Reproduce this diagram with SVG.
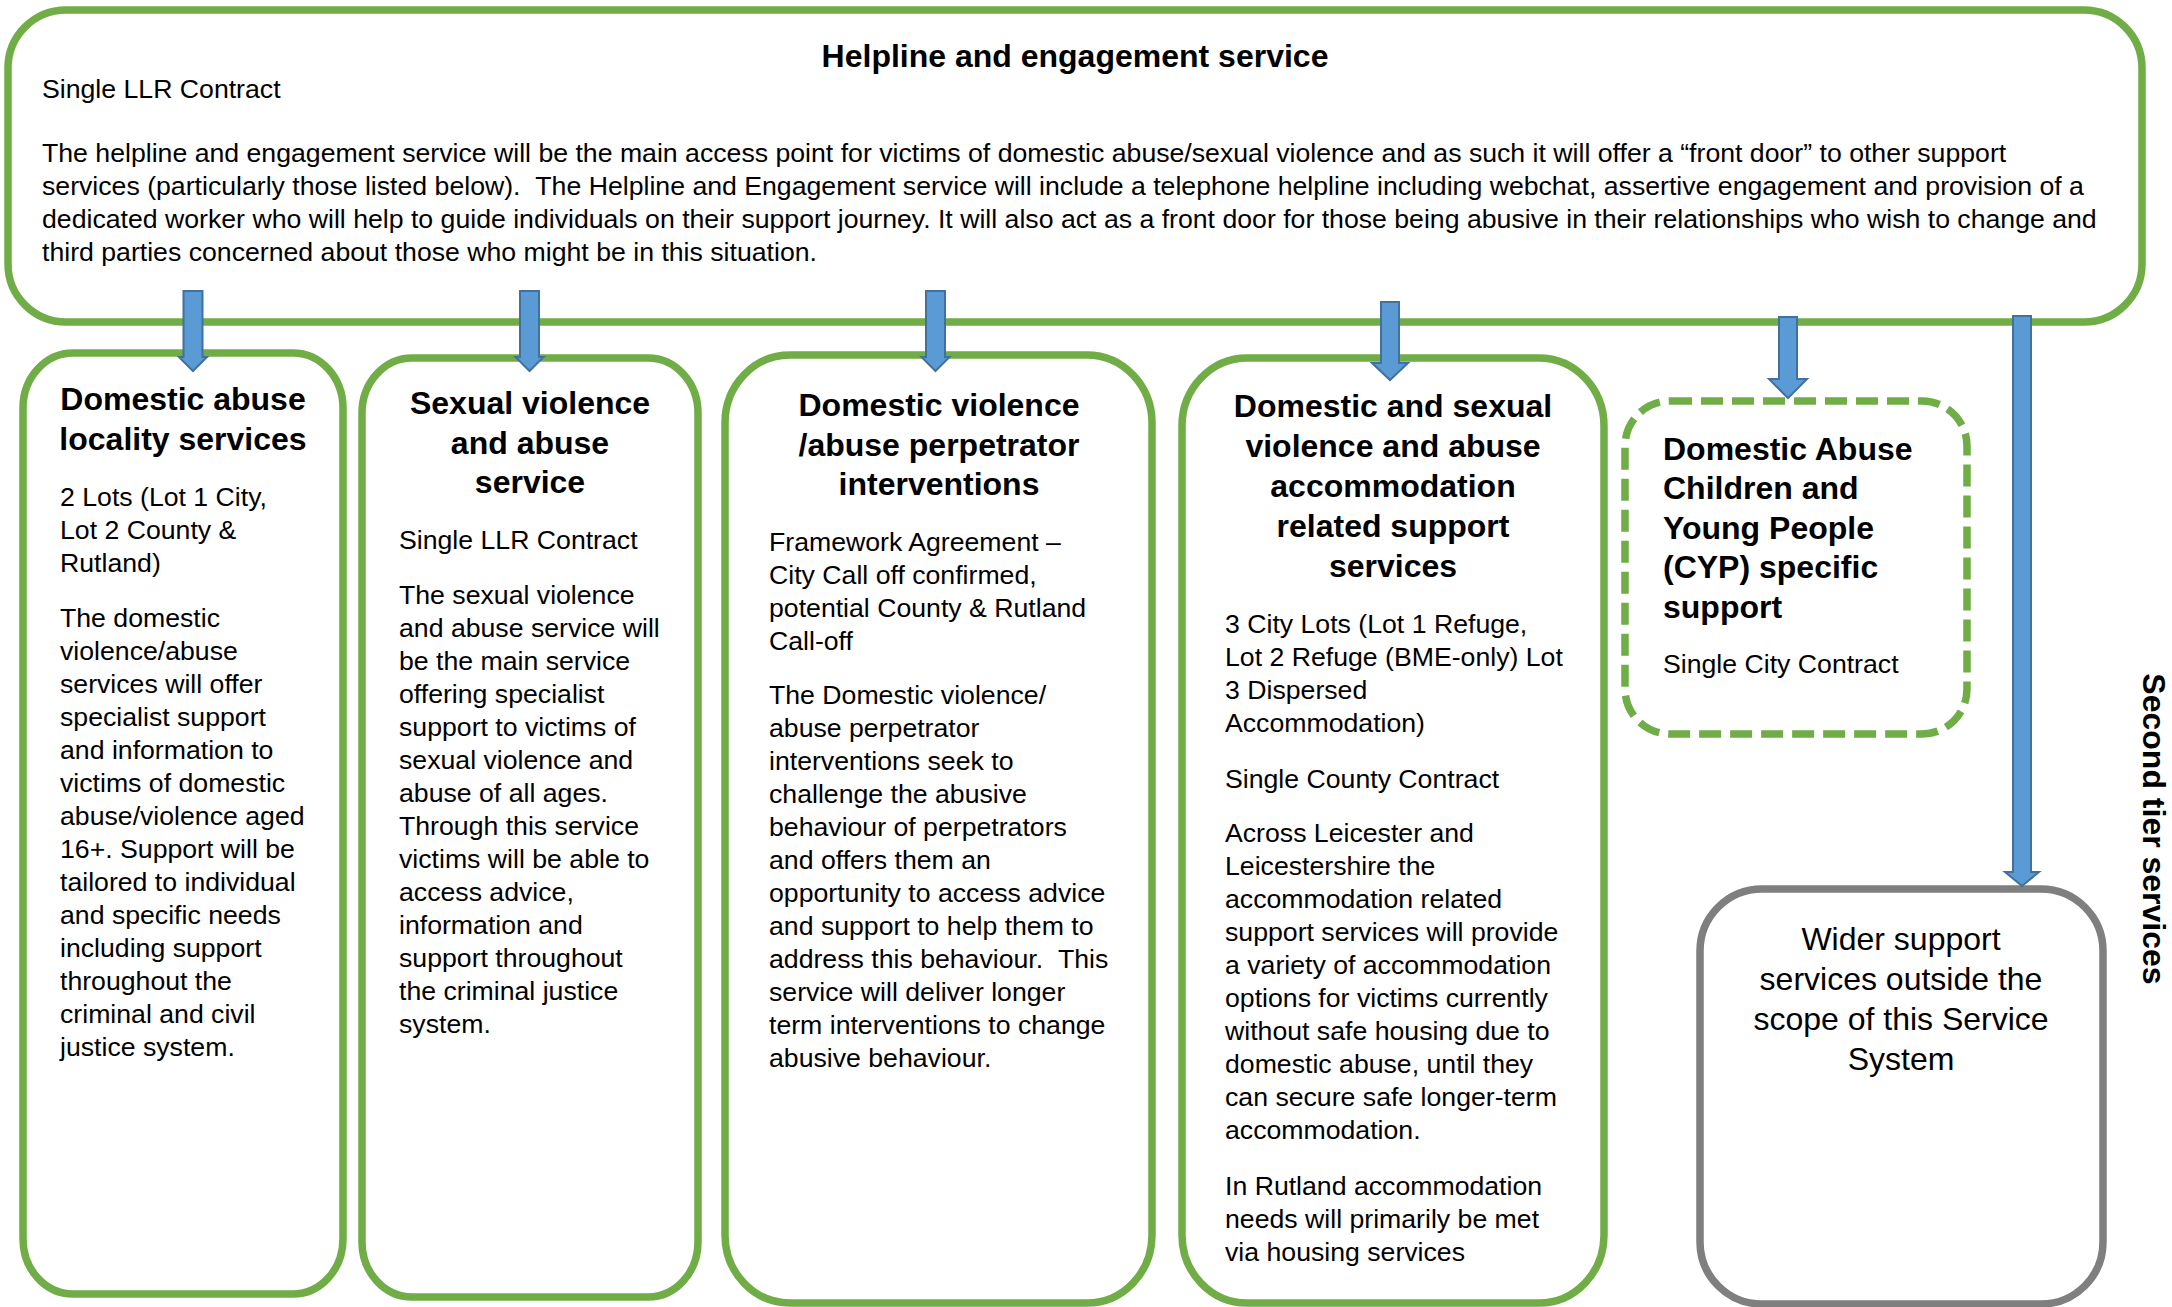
<svg xmlns="http://www.w3.org/2000/svg" width="2172" height="1307" viewBox="0 0 2172 1307">
<style>
  text { font-family: "Liberation Sans", Arial, sans-serif; fill: #000; }
  .body { font-size: 26.67px; }
  .head { font-size: 32px; font-weight: bold; }
  .big { font-size: 32px; }
  .mid { text-anchor: middle; }
  .box { fill: #fff; stroke: #70AD47; stroke-width: 7.5; }
  .dash { fill: #fff; stroke: #70AD47; stroke-width: 7.5; stroke-dasharray: 22 9; }
  .grey { fill: #fff; stroke: #7F7F7F; stroke-width: 7.5; }
  .arrow { fill: #5B9BD5; stroke: #41719C; stroke-width: 2; stroke-linejoin: miter; }
</style>

<g id="helpline">
  <rect class="box" x="8" y="10" width="2134" height="312" rx="58" ry="58"/>
  <text class="head mid" x="1075" y="67">Helpline and engagement service</text>
  <text class="body" x="42" y="98">Single LLR Contract</text>
  <text class="body" x="42" y="162">The helpline and engagement service will be the main access point for victims of domestic abuse/sexual violence and as such it will offer a “front door” to other support</text>
  <text class="body" x="42" y="195">services (particularly those listed below). &#160;The Helpline and Engagement service will include a telephone helpline including webchat, assertive engagement and provision of a</text>
  <text class="body" x="42" y="228">dedicated worker who will help to guide individuals on their support journey. It will also act as a front door for those being abusive in their relationships who wish to change and</text>
  <text class="body" x="42" y="261">third parties concerned about those who might be in this situation.</text>
</g>

<g id="locality">
  <rect class="box" x="23" y="353" width="320" height="941" rx="50" ry="55"/>
  <text class="head mid" x="183"><tspan x="183" y="410">Domestic abuse</tspan><tspan x="183" y="450">locality services</tspan></text>
  <text class="body" x="60">
    <tspan x="60" y="506">2 Lots (Lot 1 City,</tspan>
    <tspan x="60" y="539">Lot 2 County &amp;</tspan>
    <tspan x="60" y="572">Rutland)</tspan>
    <tspan x="60" y="627">The domestic</tspan>
    <tspan x="60" y="660">violence/abuse</tspan>
    <tspan x="60" y="693">services will offer</tspan>
    <tspan x="60" y="726">specialist support</tspan>
    <tspan x="60" y="759">and information to</tspan>
    <tspan x="60" y="792">victims of domestic</tspan>
    <tspan x="60" y="825">abuse/violence aged</tspan>
    <tspan x="60" y="858">16+. Support will be</tspan>
    <tspan x="60" y="891">tailored to individual</tspan>
    <tspan x="60" y="924">and specific needs</tspan>
    <tspan x="60" y="957">including support</tspan>
    <tspan x="60" y="990">throughout the</tspan>
    <tspan x="60" y="1023">criminal and civil</tspan>
    <tspan x="60" y="1056">justice system.</tspan>
  </text>
</g>

<g id="sexual-violence">
  <rect class="box" x="362" y="358" width="336" height="939" rx="50" ry="55"/>
  <text class="head mid"><tspan x="530" y="414">Sexual violence</tspan><tspan x="530" y="454">and abuse</tspan><tspan x="530" y="493">service</tspan></text>
  <text class="body">
    <tspan x="399" y="549">Single LLR Contract</tspan>
    <tspan x="399" y="604">The sexual violence</tspan>
    <tspan x="399" y="637">and abuse service will</tspan>
    <tspan x="399" y="670">be the main service</tspan>
    <tspan x="399" y="703">offering specialist</tspan>
    <tspan x="399" y="736">support to victims of</tspan>
    <tspan x="399" y="769">sexual violence and</tspan>
    <tspan x="399" y="802">abuse of all ages.</tspan>
    <tspan x="399" y="835">Through this service</tspan>
    <tspan x="399" y="868">victims will be able to</tspan>
    <tspan x="399" y="901">access advice,</tspan>
    <tspan x="399" y="934">information and</tspan>
    <tspan x="399" y="967">support throughout</tspan>
    <tspan x="399" y="1000">the criminal justice</tspan>
    <tspan x="399" y="1033">system.</tspan>
  </text>
</g>

<g id="perpetrator">
  <rect class="box" x="725" y="355" width="427" height="948" rx="65" ry="68"/>
  <text class="head mid"><tspan x="939" y="416">Domestic violence</tspan><tspan x="939" y="456">/abuse perpetrator</tspan><tspan x="939" y="495">interventions</tspan></text>
  <text class="body">
    <tspan x="769" y="551">Framework Agreement –</tspan>
    <tspan x="769" y="584">City Call off confirmed,</tspan>
    <tspan x="769" y="617">potential County &amp; Rutland</tspan>
    <tspan x="769" y="650">Call-off</tspan>
    <tspan x="769" y="704">The Domestic violence/</tspan>
    <tspan x="769" y="737">abuse perpetrator</tspan>
    <tspan x="769" y="770">interventions seek to</tspan>
    <tspan x="769" y="803">challenge the abusive</tspan>
    <tspan x="769" y="836">behaviour of perpetrators</tspan>
    <tspan x="769" y="869">and offers them an</tspan>
    <tspan x="769" y="902">opportunity to access advice</tspan>
    <tspan x="769" y="935">and support to help them to</tspan>
    <tspan x="769" y="968">address this behaviour. &#160;This</tspan>
    <tspan x="769" y="1001">service will deliver longer</tspan>
    <tspan x="769" y="1034">term interventions to change</tspan>
    <tspan x="769" y="1067">abusive behaviour.</tspan>
  </text>
</g>

<g id="accommodation">
  <rect class="box" x="1182" y="358" width="422" height="945" rx="65" ry="68"/>
  <text class="head mid"><tspan x="1393" y="417">Domestic and sexual</tspan><tspan x="1393" y="457">violence and abuse</tspan><tspan x="1393" y="497">accommodation</tspan><tspan x="1393" y="537">related support</tspan><tspan x="1393" y="577">services</tspan></text>
  <text class="body">
    <tspan x="1225" y="633">3 City Lots (Lot 1 Refuge,</tspan>
    <tspan x="1225" y="666">Lot 2 Refuge (BME-only) Lot</tspan>
    <tspan x="1225" y="699">3 Dispersed</tspan>
    <tspan x="1225" y="732">Accommodation)</tspan>
    <tspan x="1225" y="788">Single County Contract</tspan>
    <tspan x="1225" y="842">Across Leicester and</tspan>
    <tspan x="1225" y="875">Leicestershire the</tspan>
    <tspan x="1225" y="908">accommodation related</tspan>
    <tspan x="1225" y="941">support services will provide</tspan>
    <tspan x="1225" y="974">a variety of accommodation</tspan>
    <tspan x="1225" y="1007">options for victims currently</tspan>
    <tspan x="1225" y="1040">without safe housing due to</tspan>
    <tspan x="1225" y="1073">domestic abuse, until they</tspan>
    <tspan x="1225" y="1106">can secure safe longer-term</tspan>
    <tspan x="1225" y="1139">accommodation.</tspan>
    <tspan x="1225" y="1195">In Rutland accommodation</tspan>
    <tspan x="1225" y="1228">needs will primarily be met</tspan>
    <tspan x="1225" y="1261">via housing services</tspan>
  </text>
</g>

<g id="cyp">
  <rect class="dash" x="1625" y="401" width="342" height="333" rx="45" ry="45"/>
  <text class="head"><tspan x="1663" y="460">Domestic Abuse</tspan><tspan x="1663" y="499">Children and</tspan><tspan x="1663" y="539">Young People</tspan><tspan x="1663" y="578">(CYP) specific</tspan><tspan x="1663" y="618">support</tspan></text>
  <text class="body" x="1663" y="673">Single City Contract</text>
</g>

<g id="wider">
  <rect class="grey" x="1700" y="889" width="403" height="415" rx="62" ry="62"/>
  <text class="big mid"><tspan x="1901" y="950">Wider support</tspan><tspan x="1901" y="990">services outside the</tspan><tspan x="1901" y="1030">scope of this Service</tspan><tspan x="1901" y="1070">System</tspan></text>
</g>

<g id="second-tier-label">
  <text class="head mid" transform="translate(2143,829) rotate(90)" x="0" y="0">Second tier services</text>
</g>

<g id="connectors">
  <path class="arrow" d="M183.5 291 H202.5 V357 H207 L193 371 L179 357 H183.5 Z"/>
  <path class="arrow" d="M520 291 H539 V357 H543.5 L529.5 371 L515.5 357 H520 Z"/>
  <path class="arrow" d="M926 291 H945 V357 H949.5 L935.5 371 L921.5 357 H926 Z"/>
  <path class="arrow" d="M1381 302 H1399 V363 H1408 L1390 380 L1372 363 H1381 Z"/>
  <path class="arrow" d="M1779 317 H1797 V379 H1807 L1788 398 L1769 379 H1779 Z"/>
  <path class="arrow" d="M2013 316 H2031 V872 H2039 L2022 886 L2005 872 H2013 Z"/>
</g>
</svg>
